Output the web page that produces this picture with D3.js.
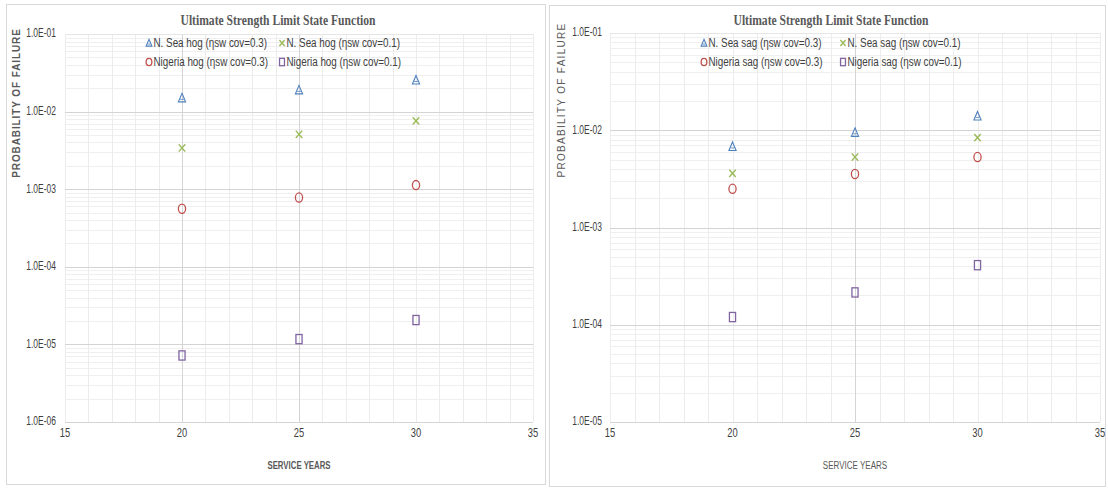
<!DOCTYPE html>
<html>
<head>
<meta charset="utf-8">
<script src="https://cdn.jsdelivr.net/npm/d3@7"></script>
<style>
  html, body { margin: 0; padding: 0; background: #fff; }
  svg { display: block; }
</style>
</head>
<body>
<div id="chart"></div>
<script>
// Values (probability of failure vs service years)
const years = [20, 25, 30];

const hogNames = [
  "N. Sea hog (\u03b7sw cov=0.3)", "N. Sea hog (\u03b7sw cov=0.1)",
  "Nigeria hog (\u03b7sw cov=0.3)", "Nigeria hog (\u03b7sw cov=0.1)"
];
const hogNSea03 = [1.5e-2, 1.9e-2, 2.55e-2];
const hogNSea01 = [3.4e-3, 5.1e-3, 7.6e-3];
const hogNigeria03 = [5.6e-4, 7.8e-4, 1.13e-3];
const hogNigeria01 = [7.2e-6, 1.17e-5, 2.06e-5];

const sagNames = [
  "N. Sea sag (\u03b7sw cov=0.3)", "N. Sea sag (\u03b7sw cov=0.1)",
  "Nigeria sag (\u03b7sw cov=0.3)", "Nigeria sag (\u03b7sw cov=0.1)"
];
const sagNSea03 = [6.8e-3, 9.5e-3, 1.4e-2];
const sagNSea01 = [3.6e-3, 5.3e-3, 8.4e-3];
const sagNigeria03 = [2.5e-3, 3.55e-3, 5.3e-3];
const sagNigeria01 = [1.2e-4, 2.15e-4, 4.1e-4];

const xTicks = [15, 20, 25, 30, 35];
const hogYDomain = [1e-6, 1e-1];
const sagYDomain = [1e-5, 1e-1];

const titleText = "Ultimate Strength Limit State Function";
const xTitleText = "SERVICE YEARS";
const yTitleText = "PROBABILITY OF FAILURE";

// marker order: triangle, x, circle, square
const markerKind = ["tri", "x", "circle", "square"];
const markerColor = ["#4f81bd", "#9bbb59", "#c0504d", "#8064a2"];

const W = 1108, H = 488;
const SANS = "'Liberation Sans', Arial, sans-serif";
const svg = d3.select("#chart").append("svg").attr("width", W).attr("height", H);
svg.append("rect").attr("width", W).attr("height", H).attr("fill", "#fff");

const fmtExp = d => "1.0E-" + String(Math.round(-Math.log10(d))).padStart(2, "0");

// narrow text: the original uses a condensed font, so squeeze horizontally
function narrow(sel, x, y, f) {
  return sel.attr("x", 0).attr("y", 0)
    .attr("transform", (d, i) => {
      const px = typeof x === "function" ? x(d, i) : x;
      const py = typeof y === "function" ? y(d, i) : y;
      return `translate(${px},${py}) scale(${f},1)`;
    });
}

function drawMarker(g, kind, color, cx, cy, s) {
  const w = 3.6 * s, h = 4.6 * s;
  if (kind === "tri") {
    g.append("path")
      .attr("d", `M${cx},${cy - h}L${cx + w},${cy + h * 0.85}L${cx - w},${cy + h * 0.85}Z`)
      .attr("fill", "none").attr("stroke", color).attr("stroke-width", 1.1);
    g.append("line")
      .attr("x1", cx - w * 0.55).attr("x2", cx + w * 0.55)
      .attr("y1", cy + h * 0.3).attr("y2", cy + h * 0.3)
      .attr("stroke", color).attr("stroke-width", 0.8);
  } else if (kind === "x") {
    g.append("path")
      .attr("d", `M${cx - w * 0.9},${cy - h * 0.8}L${cx + w * 0.9},${cy + h * 0.8}M${cx + w * 0.9},${cy - h * 0.8}L${cx - w * 0.9},${cy + h * 0.8}`)
      .attr("fill", "none").attr("stroke", color).attr("stroke-width", 1.4);
  } else if (kind === "circle") {
    g.append("ellipse")
      .attr("cx", cx).attr("cy", cy).attr("rx", w).attr("ry", h)
      .attr("fill", "none").attr("stroke", color).attr("stroke-width", 1.3);
  } else {
    g.append("rect")
      .attr("x", cx - w * 0.85).attr("y", cy - h).attr("width", w * 1.7).attr("height", h * 2)
      .attr("fill", "none").attr("stroke", color).attr("stroke-width", 1.3);
  }
}

function drawChart(cfg) {
  const g = svg.append("g");

  // outer panel
  g.append("rect")
    .attr("x", cfg.panel[0] + 0.5).attr("y", cfg.panel[1] + 0.5)
    .attr("width", cfg.panel[2]).attr("height", cfg.panel[3])
    .attr("fill", "#fff").attr("stroke", "#d9d9d9");

  const x = d3.scaleLinear().domain([15, 35]).range([cfg.x0, cfg.x1]);
  const y = d3.scaleLog().domain(cfg.yDomain).range([cfg.y1, cfg.y0]);

  // minor gridlines
  const grid = g.append("g").attr("shape-rendering", "crispEdges");
  const yMinor = [];
  for (let e = Math.log10(cfg.yDomain[0]); e < Math.log10(cfg.yDomain[1]); e++) {
    for (let k = 2; k <= 9; k++) yMinor.push(k * Math.pow(10, e));
  }
  grid.selectAll("line.hm").data(yMinor).join("line")
    .attr("x1", cfg.x0).attr("x2", cfg.x1)
    .attr("y1", d => Math.round(y(d)) + 0.5).attr("y2", d => Math.round(y(d)) + 0.5)
    .attr("stroke", "#efefef");
  grid.selectAll("line.vm").data(d3.range(15, 36, 1)).join("line")
    .attr("x1", d => Math.round(x(d)) + 0.5).attr("x2", d => Math.round(x(d)) + 0.5)
    .attr("y1", cfg.y0).attr("y2", cfg.y1)
    .attr("stroke", "#ececec");
  grid.selectAll("line.vd").data(cfg.darkV).join("line")
    .attr("x1", d => Math.round(x(d)) + 0.5).attr("x2", d => Math.round(x(d)) + 0.5)
    .attr("y1", cfg.y0).attr("y2", cfg.y1)
    .attr("stroke", "#d4d4d4");

  // decade gridlines
  const decades = y.ticks().filter(d => Math.abs(Math.log10(d) - Math.round(Math.log10(d))) < 1e-9);
  grid.selectAll("line.hM").data(decades).join("line")
    .attr("x1", cfg.x0).attr("x2", cfg.x1)
    .attr("y1", d => Math.round(y(d)) + 0.5).attr("y2", d => Math.round(y(d)) + 0.5)
    .attr("stroke", d => d === cfg.yDomain[1] ? "#e6e6e6" : "#d4d4d4");

  // y tick labels
  narrow(g.append("g").selectAll("text").data(decades).join("text"), cfg.yLabelRight, d => y(d), 0.68)
    .attr("text-anchor", "end").attr("dominant-baseline", "middle")
    .style("font-family", SANS)
    .style("font-size", "12.5px").style("fill", "#404040")
    .text(fmtExp);

  // x tick labels
  narrow(g.append("g").selectAll("text").data(xTicks).join("text"), d => x(d), 434, 0.75)
    .attr("text-anchor", "middle").attr("dominant-baseline", "middle")
    .style("font-family", SANS)
    .style("font-size", "12.5px").style("fill", "#404040")
    .text(d => d);

  // axis titles
  narrow(g.append("text"), (cfg.x0 + cfg.x1) / 2, 466, cfg.xTitleSqueeze)
    .attr("text-anchor", "middle").attr("dominant-baseline", "middle")
    .style("font-family", SANS)
    .style("font-size", "11.5px").style("font-weight", cfg.bold ? "bold" : "normal")
    .style("fill", "#595959")
    .text(xTitleText);

  g.append("text")
    .attr("transform", `translate(${cfg.yTitleX},${cfg.yTitleY}) rotate(-90)`)
    .attr("text-anchor", "middle").attr("dominant-baseline", "middle")
    .style("font-family", SANS)
    .style("font-size", "10px").style("font-weight", cfg.bold ? "bold" : "normal")
    .style("letter-spacing", cfg.yTitleSpacing)
    .style("fill", "#595959")
    .text(yTitleText);

  // chart title
  narrow(g.append("text"), cfg.titleX, 22, 0.8)
    .attr("text-anchor", "middle").attr("dominant-baseline", "middle")
    .style("font-family", "'Liberation Serif', 'DejaVu Serif', serif")
    .style("font-size", "14.5px").style("font-weight", "bold")
    .style("fill", "#595959")
    .text(titleText);

  // data markers
  const pts = g.append("g");
  cfg.series.forEach((vals, si) => {
    vals.forEach((v, i) => {
      drawMarker(pts, markerKind[si], markerColor[si], x(years[i]), y(v), 1);
    });
  });

  // legend (2 x 2)
  const lg = g.append("g");
  cfg.names.forEach((name, si) => {
    const col = si % 2, row = Math.floor(si / 2);
    const mx = cfg.legendX[col], my = [43, 62][row];
    drawMarker(lg, markerKind[si], markerColor[si], mx, my, 0.8);
    narrow(lg.append("text"), mx + 4.5, my, 0.73)
      .attr("dominant-baseline", "middle")
      .style("font-family", SANS)
      .style("font-size", "13.5px").style("fill", "#404040")
      .text(name);
  });
}

drawChart({
  panel: [6, 4, 539, 480],
  x0: 65, x1: 533, y0: 34, y1: 422,
  yDomain: hogYDomain,
  darkV: [20, 25],
  yLabelRight: 56,
  titleX: 278,
  yTitleX: 17, yTitleY: 103, yTitleSpacing: "0.9px",
  xTitleSqueeze: 0.68,
  bold: true,
  legendX: [149, 282],
  names: hogNames,
  series: [hogNSea03, hogNSea01, hogNigeria03, hogNigeria01]
});

drawChart({
  panel: [549, 5, 556, 481],
  x0: 610, x1: 1100, y0: 33, y1: 422,
  yDomain: sagYDomain,
  darkV: [25],
  yLabelRight: 602,
  titleX: 831,
  yTitleX: 562, yTitleY: 100, yTitleSpacing: "1.3px",
  xTitleSqueeze: 0.7,
  bold: false,
  legendX: [704, 843],
  names: sagNames,
  series: [sagNSea03, sagNSea01, sagNigeria03, sagNigeria01]
});
</script>
</body>
</html>
